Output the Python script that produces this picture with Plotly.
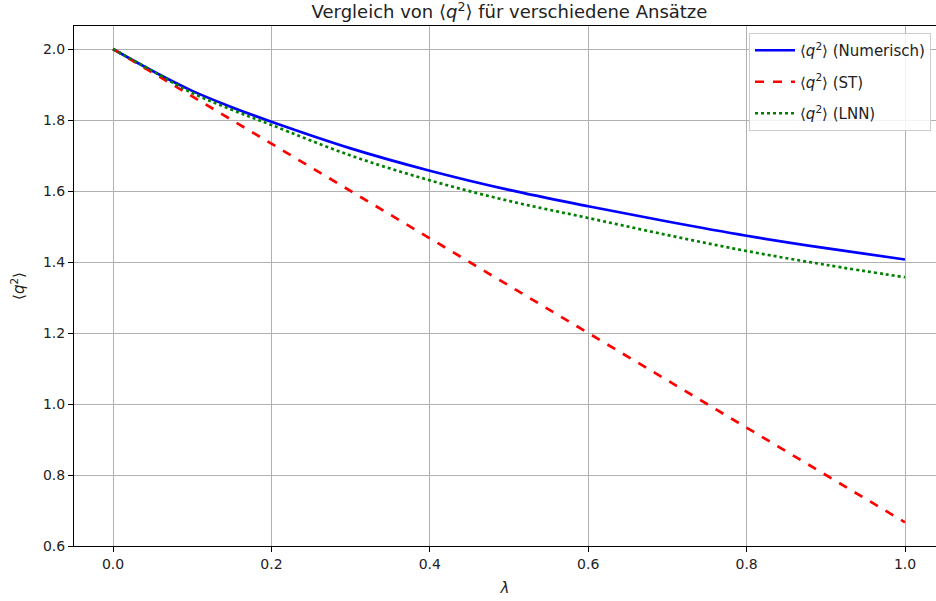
import plotly.graph_objects as go

lam = [0.0, 0.05, 0.1, 0.15, 0.2, 0.3, 0.4, 0.5, 0.6, 0.7, 0.8, 0.9, 1.0]
q2_num = [2.0, 1.938, 1.882, 1.836, 1.795, 1.720, 1.657, 1.603, 1.557, 1.514, 1.474, 1.439, 1.407]
q2_st = [2.0, 1.9333, 1.8667, 1.8, 1.7333, 1.6, 1.4667, 1.3333, 1.2, 1.0667, 0.9333, 0.8, 0.6667]
q2_lnn = [2.0, 1.938, 1.876, 1.829, 1.786, 1.700, 1.630, 1.572, 1.524, 1.476, 1.431, 1.392, 1.357]

x_ticks = [0.0, 0.2, 0.4, 0.6, 0.8, 1.0]
y_ticks = [0.6, 0.8, 1.0, 1.2, 1.4, 1.6, 1.8, 2.0]

q = "⟨<i>q</i><sup>2</sup>⟩"
font = "DejaVu Sans"

fig = go.Figure()
fig.add_trace(go.Scatter(x=lam, y=q2_num, mode="lines", name=q + " (Numerisch)", legendgroup="a",
                         line=dict(color="blue", width=2.7, shape="spline")))
fig.add_trace(go.Scatter(x=lam, y=q2_st, mode="lines", name=q + " (ST)", legendgroup="b",
                         line=dict(color="red", width=2.7, dash="dash")))
fig.add_trace(go.Scatter(x=lam, y=q2_lnn, mode="lines", name=q + " (LNN)", legendgroup="c",
                         line=dict(color="green", width=2.7, dash="dot", shape="spline")))

L, R, T, B = 74, 936, 26, 546
W, H = 936, 601
px_per_unit = (905 - 113) / 1.0
xmin = -(113 - L) / px_per_unit
xmax = (R - 113) / px_per_unit
ymax = 0.6 + (B - T) * 1.4 / (546 - 49)

fig.update_layout(
    width=W, height=H,
    margin=dict(l=L, r=W - R, t=T, b=H - B, pad=0),
    plot_bgcolor="white", paper_bgcolor="white",
    font=dict(family=font, size=14, color="black"),
    title=dict(text="Vergleich von " + q + " für verschiedene Ansätze",
               x=(L + 945) / 2 / W, xanchor="center", y=1 - 12 / H, yanchor="middle",
               font=dict(size=18, family=font, color="#222")),
    showlegend=True,
    legend=dict(x=(749 - L) / (R - L), xanchor="left", y=1 - (33 - T) / (B - T), yanchor="top",
                bgcolor="rgba(255,255,255,0.85)", bordercolor="#cccccc", borderwidth=1,
                font=dict(size=15, family=font, color="#222"), itemwidth=40,
                tracegroupgap=9),
    xaxis=dict(range=[xmin, xmax], tickvals=x_ticks, ticktext=[f"{v:.1f}" for v in x_ticks],
               showgrid=True, gridcolor="#b0b0b0", gridwidth=1,
               showline=True, linecolor="black", linewidth=1, mirror=True,
               ticks="outside", ticklen=5, tickcolor="black", zeroline=False,
               title=dict(text="<i>λ</i>", standoff=11, font=dict(size=15, family=font, color="#222")),
               tickfont=dict(size=14, family=font, color="#222")),
    yaxis=dict(range=[0.6, ymax],
               tickvals=y_ticks, ticktext=[f"{v:.1f}" for v in y_ticks],
               showgrid=True, gridcolor="#b0b0b0", gridwidth=1,
               showline=True, linecolor="black", linewidth=1,
               ticks="outside", ticklen=5, tickcolor="black", zeroline=False,
               title=dict(text=q, standoff=14, font=dict(size=15, family=font, color="#222")),
               tickfont=dict(size=14, family=font, color="#222")),
)

fig.write_html("out.html")
